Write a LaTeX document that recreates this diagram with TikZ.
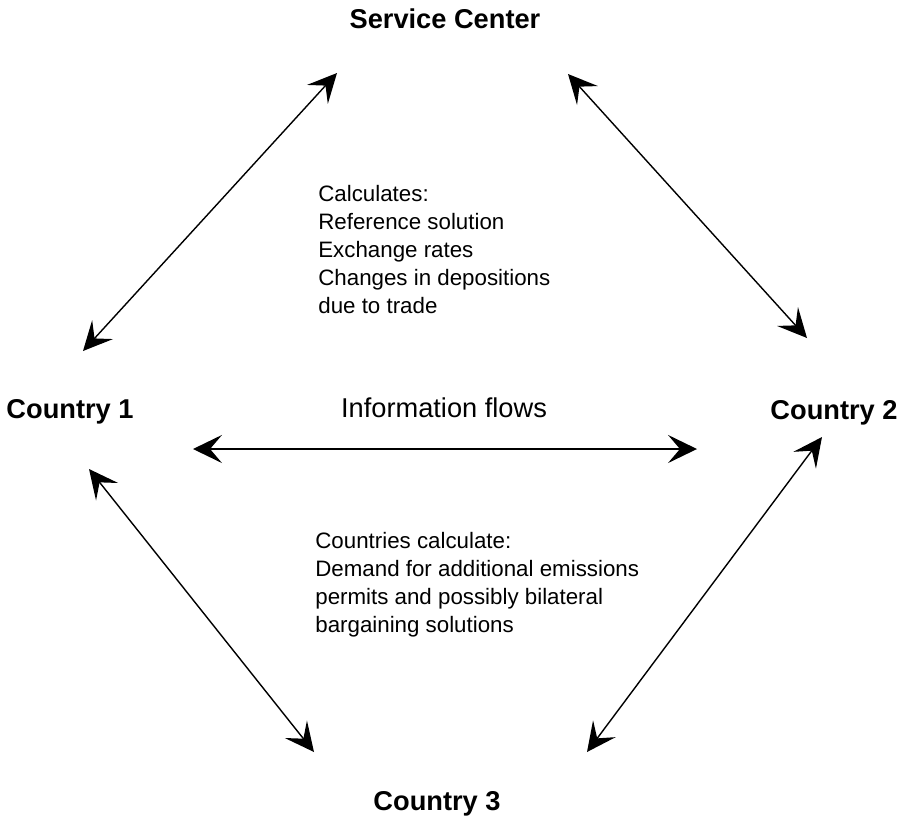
\documentclass[tikz,border=0pt]{standalone}
\usepackage{fontspec}
\setmainfont{Liberation Sans}
\usetikzlibrary{arrows.meta}

\begin{document}
\begin{tikzpicture}[
    x=0.02cm, y=-0.02cm,
    party/.style={font=\fontsize{15.5}{18}\selectfont\bfseries,
                  inner sep=0pt, anchor=base},
    note/.style={font=\fontsize{12.7}{15.9}\selectfont, align=left,
                 inner sep=0pt, anchor=north west},
    tip/.tip={Stealth[length=16.5pt, width=16pt, inset=6.8pt]},
    flow/.style={tip-tip, line width=0.8pt},
]
\useasboundingbox (0,0) rectangle (909,819);

% the four parties
\node[party] (SC) at (445,28)  {Service Center};
\node[party] (C1) at (70,418)  {Country 1};
\node[party] (C2) at (834,419) {Country 2};
\node[party] (C3) at (437,810) {Country 3};

% what is computed where
\node[note] (calcSC) at (318,185)
    {Calculates:\\Reference solution\\Exchange rates\\Changes in depositions\\due to trade};
\node[font=\fontsize{15.5}{18}\selectfont, inner sep=0pt, anchor=base] (info) at (444,417)
    {Information flows};
\node[note] (calcC) at (315,532)
    {Countries calculate:\\Demand for additional emissions\\permits and possibly bilateral\\bargaining solutions};

% arrow ends next to each party
\coordinate (SCw) at (337,73);  \coordinate (SCe) at (568,74);
\coordinate (C1n) at (83,351);  \coordinate (C1e) at (193,449); \coordinate (C1s) at (89,469);
\coordinate (C2n) at (807,338); \coordinate (C2w) at (697,449); \coordinate (C2s) at (822,437);
\coordinate (C3w) at (314,752); \coordinate (C3e) at (587,752);

\draw[flow] (SCw) -- (C1n);
\draw[flow] (SCe) -- (C2n);
\draw[flow] (C1e) -- (C2w);
\draw[flow] (C1s) -- (C3w);
\draw[flow] (C2s) -- (C3e);
\end{tikzpicture}
\end{document}
